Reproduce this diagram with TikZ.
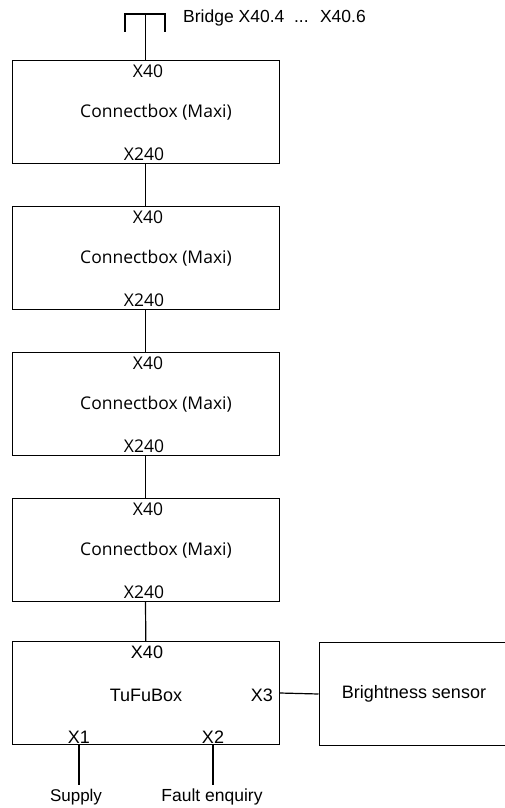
\documentclass[tikz,border=0pt]{standalone}
\usepackage{fontspec}
\setmainfont{Liberation Sans}
\newfontfamily\cbfont{Open Sans}
\usetikzlibrary{positioning}

\tikzset{
  box/.style={draw, line width=1pt, minimum width=267pt, minimum height=102.5pt, inner sep=0pt},
  port/.style={inner sep=0pt, font=\fontsize{18}{20}\selectfont},
  cbport/.style={inner sep=0pt, font=\cbfont\fontsize{17.5}{20}\selectfont},
  wire/.style={line width=1.2pt},
}

\begin{document}
\begin{tikzpicture}[x=1pt, y=-1pt]
			\useasboundingbox (0,0) rectangle (505,808);
			\clip (0,0) rectangle (505,808);
			% bridge on top
			\coordinate (brg) at (145.5,14);
			\draw[wire] (125,32) -- (125,14) -- (165,14) -- (165,32);
			\node[port, anchor=west, font=\fontsize{17.5}{20}\selectfont] (brgtxt) at (183,18) {Bridge X40.4 \ ... \ X40.6};
			% connectboxes
			\foreach \i/\y in {1/112, 2/258, 3/404, 4/550} {
				\node[box] (cb\i) at (145.5,\y) {};
				\node[cbport] (cb\i x40) at (148,\y-41) {X40};
				\node[cbport] (cb\i txt) at (156,\y) {Connectbox (Maxi)};
				\node[cbport] (cb\i x240) at (144,\y+42) {X240};
			}
			\draw[wire] (brg) -- (cb1.north);
			\draw[wire] (cb1.south) -- (cb2.north);
			\draw[wire] (cb2.south) -- (cb3.north);
			\draw[wire] (cb3.south) -- (cb4.north);
			% TuFuBox
			\node[box] (tufu) at (145.8,693) {};
			\node[port] (tufux40) at (147,652) {X40};
			\node[port] (tufutxt) at (146,695) {TuFuBox};
			\node[port, anchor=east] (tufux3) at (273,695) {X3};
			\node[port] (tufux1) at (79,737) {X1};
			\node[port] (tufux2) at (213,737) {X2};
			\draw[wire] (cb4.south) -- (tufu.north);
			% sensor, cut at the right border
			\node[box, minimum width=200pt] (sensor) at (419,694) {};
			\node[port] (sensortxt) at (414,694) {Brightness sensor};
			\draw[wire] (tufu.east) -- (sensor.west);
			% outputs
			\coordinate (sup) at (79,785);
			\coordinate (flt) at (213,785);
			\draw[wire] (tufux1 |- tufu.south) -- (sup);
			\draw[wire] (tufux2 |- tufu.south) -- (flt);
			\node[port, font=\fontsize{17}{20}\selectfont] (suptxt) at (76,797) {Supply};
			\node[port, font=\fontsize{17.5}{20}\selectfont] (flttxt) at (212,797) {Fault enquiry};
		\end{tikzpicture}
\end{document}
